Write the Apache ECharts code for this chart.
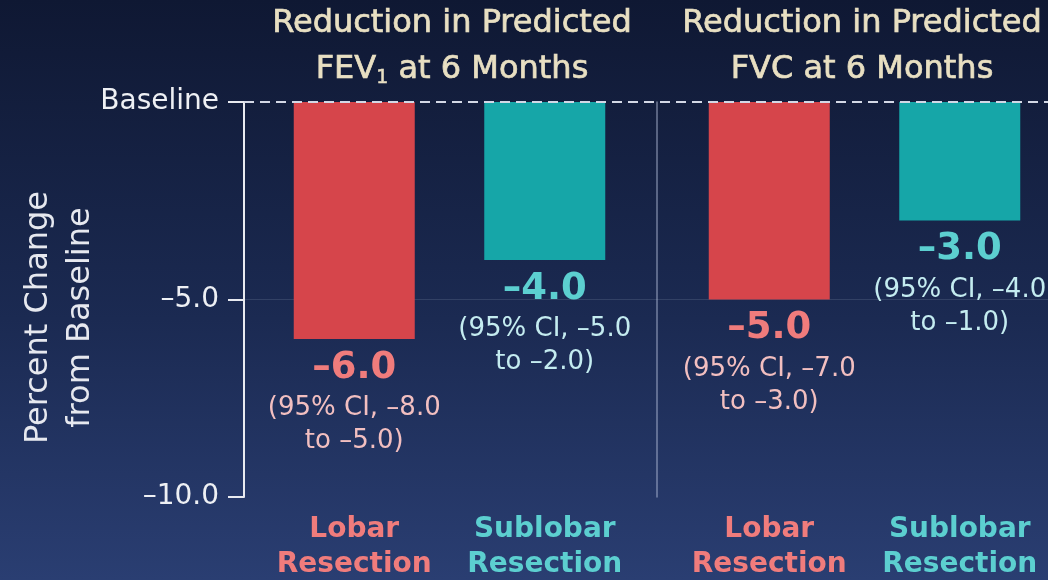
<!DOCTYPE html>
<html>
<head>
<meta charset="utf-8">
<script src="https://cdn.jsdelivr.net/npm/echarts@6/dist/echarts.min.js"></script>
<style>
  html, body { margin: 0; padding: 0; }
  #chart { width: 1048px; height: 580px; }
</style>
</head>
<body>
<div id="chart"></div>
<script>
// Resection groups shown in each panel
const groups = ['Lobar\nResection', 'Sublobar\nResection'];

// Change in predicted FEV1 at 6 months (percent), with 95% CI bounds
const fev1Change = [-6.0, -4.0];
const fev1Low = [-8.0, -5.0];
const fev1High = [-5.0, -2.0];

// Change in predicted FVC at 6 months (percent), with 95% CI bounds
const fvcChange = [-5.0, -3.0];
const fvcLow = [-7.0, -4.0];
const fvcHigh = [-3.0, -1.0];

// Value axis
const yMin = -10;
const yMax = 0;
const yStep = 5;
const baselineLabel = 'Baseline';

const FONT = '"DejaVu Sans", Verdana, sans-serif';
const RED = '#d6454b';
const TEAL = '#16a6a8';
const RED_TEXT = '#f07c7c';
const TEAL_TEXT = '#5ccfd0';
const RED_CI = '#f2bfc0';
const TEAL_CI = '#c4ecf0';
const TITLE = '#e8dfc2';
const groupStyle = ['lob', 'sub'];

function fmt(v) {
  return (v < 0 ? '\u2013' : '') + Math.abs(v).toFixed(1);
}

function barLabel(lows, highs) {
  return function (p) {
    const k = groupStyle[p.dataIndex];
    return '{' + k + 'V|' + fmt(p.value) + '}\n' +
      '{' + k + 'C|(95% CI, ' + fmt(lows[p.dataIndex]) + '}\n' +
      '{' + k + 'C|to ' + fmt(highs[p.dataIndex]) + ')}';
  };
}

const labelRich = {
  lobV: { fontFamily: FONT, fontSize: 37, fontWeight: 'bold', color: RED_TEXT, lineHeight: 48 },
  subV: { fontFamily: FONT, fontSize: 37, fontWeight: 'bold', color: TEAL_TEXT, lineHeight: 48 },
  lobC: { fontFamily: FONT, fontSize: 26, color: RED_CI, lineHeight: 33 },
  subC: { fontFamily: FONT, fontSize: 26, color: TEAL_CI, lineHeight: 33 }
};

const catRich = {
  lob: { fontFamily: FONT, fontSize: 28, fontWeight: 'bold', color: RED_TEXT, lineHeight: 35 },
  sub: { fontFamily: FONT, fontSize: 28, fontWeight: 'bold', color: TEAL_TEXT, lineHeight: 35 }
};

function catLabel(value, index) {
  const k = groupStyle[index];
  return value.split('\n').map(function (s) { return '{' + k + '|' + s + '}'; }).join('\n');
}

function barSeries(axisIndex, values, lows, highs) {
  return {
    type: 'bar',
    xAxisIndex: axisIndex,
    yAxisIndex: axisIndex,
    barWidth: 121,
    data: values.map(function (v, i) {
      return { value: v, itemStyle: { color: i === 0 ? RED : TEAL } };
    }),
    label: {
      show: true,
      position: 'bottom',
      distance: 5,
      align: 'center',
      formatter: barLabel(lows, highs),
      rich: labelRich
    },
    z: 2
  };
}

const hiddenY = function (gridIndex) {
  return {
    type: 'value', gridIndex: gridIndex, min: yMin, max: yMax, interval: yStep,
    axisLine: { show: false }, axisTick: { show: false },
    axisLabel: { show: false }, splitLine: { show: false }
  };
};

const titleRich = {
  t: { fontFamily: FONT, fontSize: 32, fill: TITLE, stroke: TITLE, lineWidth: 0.7, lineHeight: 46 },
  s: { fontFamily: FONT, fontSize: 19, fill: TITLE, stroke: TITLE, lineWidth: 0.5, padding: [16, 0, 0, 0] }
};

const chart = echarts.init(document.getElementById('chart'), null, { renderer: 'canvas' });

chart.setOption({
  animation: false,
  backgroundColor: {
    type: 'linear', x: 0, y: 0, x2: 0, y2: 1,
    colorStops: [
      { offset: 0, color: '#0f1833' },
      { offset: 0.55, color: '#1b2a52' },
      { offset: 1, color: '#2a3e72' }
    ]
  },
  graphic: [
    {
      type: 'text', x: 452, y: 47, z: 10,
      style: {
        text: '{t|Reduction in Predicted}\n{t|FEV}{s|1}{t| at 6 Months}',
        rich: titleRich, align: 'center', verticalAlign: 'middle'
      }
    },
    {
      type: 'text', x: 862, y: 47, z: 10,
      style: {
        text: '{t|Reduction in Predicted}\n{t|FVC at 6 Months}',
        rich: titleRich, align: 'center', verticalAlign: 'middle'
      }
    }
  ],
  grid: [
    { left: 244, right: 0, top: 102, height: 395, outerBoundsMode: 'none' },
    { left: 259, width: 381, top: 102, height: 395, outerBoundsMode: 'none' },
    { left: 674, width: 381, top: 102, height: 395, outerBoundsMode: 'none' }
  ],
  xAxis: [
    { type: 'value', gridIndex: 0, min: 0, max: 1, show: false },
    {
      type: 'category', gridIndex: 1, data: groups,
      axisLine: { show: false }, axisTick: { show: false },
      axisLabel: { margin: 15, formatter: catLabel, rich: catRich }
    },
    {
      type: 'category', gridIndex: 2, data: groups,
      axisLine: { show: false }, axisTick: { show: false },
      axisLabel: { margin: 15, formatter: catLabel, rich: catRich }
    },
    { type: 'value', gridIndex: 0, min: 0, max: 1, show: false }
  ],
  yAxis: [
    {
      type: 'value', gridIndex: 0, min: yMin, max: yMax, interval: yStep,
      position: 'left',
      name: 'Percent Change\nfrom Baseline',
      nameLocation: 'middle',
      nameGap: 142,
      nameMoveOverlap: false,
      nameTextStyle: {
        fontFamily: FONT, fontSize: 32, color: '#e6e8ef', lineHeight: 42,
        padding: [0, 36, 0, 0]
      },
      axisLine: { show: true, lineStyle: { color: '#e8eaf0', width: 2 } },
      axisTick: { show: true, length: 16, lineStyle: { color: '#e8eaf0', width: 2 } },
      axisLabel: {
        margin: 25, fontFamily: FONT, fontSize: 28, color: '#eef0f4',
        formatter: function (v) { return v === 0 ? baselineLabel : fmt(v); }
      },
      splitLine: {
        show: true,
        lineStyle: { color: ['rgba(0,0,0,0)', 'rgba(200,210,235,0.14)', 'rgba(0,0,0,0)'], width: 1 }
      }
    },
    hiddenY(1),
    Object.assign(hiddenY(2), {
      axisLine: { show: true, onZero: false, lineStyle: { color: 'rgba(190,200,225,0.55)', width: 1.5 } },
      offset: 17
    }),
    {
      // dashed baseline across both panels
      type: 'value', gridIndex: 0, min: yMin, max: yMax, interval: yMax - yMin,
      axisLine: { show: false }, axisTick: { show: false }, axisLabel: { show: false },
      splitLine: {
        show: true,
        lineStyle: { color: ['rgba(0,0,0,0)', '#d3d8e6'], width: 2, type: [10, 6] }
      },
      z: 5
    }
  ],
  series: [
    barSeries(1, fev1Change, fev1Low, fev1High),
    barSeries(2, fvcChange, fvcLow, fvcHigh)
  ]
});
</script>
</body>
</html>
